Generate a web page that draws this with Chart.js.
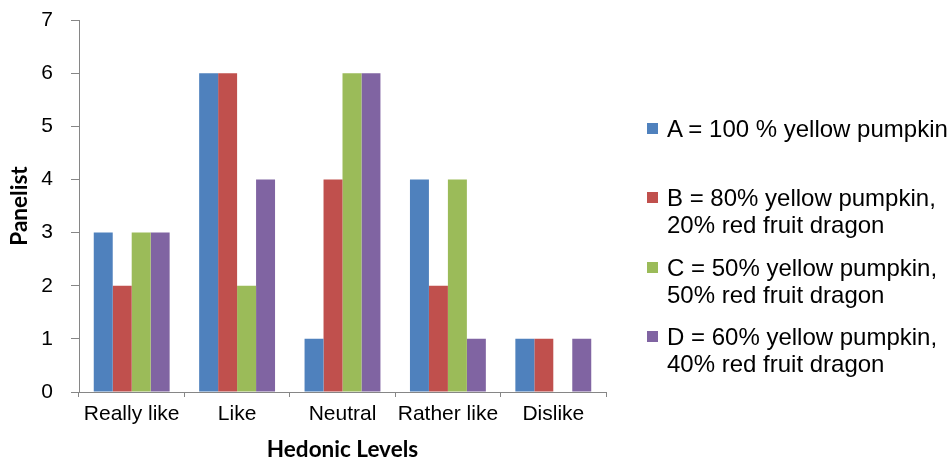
<!DOCTYPE html>
<html>
<head>
<meta charset="utf-8">
<script src="https://cdn.jsdelivr.net/npm/chart.js@4/dist/chart.umd.min.js"></script>
<style>
  html, body { margin: 0; padding: 0; background: #fff; }
  #wrap { position: relative; width: 949px; height: 463px; }
  #chart { position: absolute; left: 0; top: 0; }
  .lg { position: absolute; left: 647px; font-family: "Liberation Sans", Arial, sans-serif;
        font-size: 24px; line-height: 27px; color: #000; white-space: nowrap; }
  .lg .sw { position: absolute; left: 0; top: 8px; width: 11px; height: 11px; }
  .lg .tx { position: absolute; left: 20px; top: 0; }
</style>
</head>
<body>
<div id="wrap">
  <canvas id="chart" width="949" height="463"></canvas>
  <div id="legend"></div>
</div>
<script>
// Hedonic rating categories
const categories = ['Really like', 'Like', 'Neutral', 'Rather like', 'Dislike'];

// Number of panelists choosing each level, per formulation
const seriesA = [3, 6, 1, 4, 1];
const seriesB = [2, 6, 4, 2, 1];
const seriesC = [3, 2, 6, 4, 0];
const seriesD = [3, 4, 6, 1, 1];

const seriesLabels = [
  ['A = 100 % yellow pumpkin'],
  ['B = 80% yellow pumpkin,', '20% red fruit dragon'],
  ['C = 50% yellow pumpkin,', '50% red fruit dragon'],
  ['D = 60% yellow pumpkin,', '40% red fruit dragon']
];
const seriesColors = ['#4F81BD', '#C0504D', '#9BBB59', '#8064A2'];

const yTicks = [0, 1, 2, 3, 4, 5, 6, 7];

const axisColor = '#868686';
const tickFamily = '"Liberation Sans", Arial, sans-serif';
const titleFont = { family: 'Lato, "Open Sans", sans-serif', size: 22.5, weight: 'bold' };

const allSeries = [seriesA, seriesB, seriesC, seriesD];

new Chart(document.getElementById('chart'), {
  type: 'bar',
  data: {
    labels: categories,
    datasets: allSeries.map((vals, i) => ({
      label: seriesLabels[i].join(' '),
      data: vals,
      backgroundColor: seriesColors[i],
      borderWidth: 0,
      barPercentage: 1.0,
      categoryPercentage: 0.72
    }))
  },
  options: {
    responsive: false,
    animation: false,
    layout: { autoPadding: false, padding: { left: 0, right: 343, top: 20, bottom: 0 } },
    plugins: { legend: { display: false }, tooltip: { enabled: false } },
    scales: {
      x: {
        offset: true,
        grid: { display: true, drawOnChartArea: false, drawTicks: true, tickLength: 5,
                color: axisColor, offset: true },
        border: { display: true, color: axisColor, width: 1 },
        ticks: { color: '#000', font: { family: tickFamily, size: 21 }, padding: 5,
                 maxRotation: 0, autoSkip: false },
        title: { display: true, text: 'Hedonic Levels', color: '#000', font: titleFont,
                 padding: { top: 0, bottom: 0 } },
        afterFit: s => { s.height = 71; }
      },
      y: {
        min: 0, max: 7,
        afterBuildTicks: s => { s.ticks = yTicks.map(v => ({ value: v })); },
        grid: { display: true, drawOnChartArea: false, drawTicks: true, tickLength: 8,
                color: axisColor },
        border: { display: true, color: axisColor, width: 1 },
        ticks: { color: '#000', font: { family: tickFamily, size: 21 }, padding: 18 },
        title: { display: true, text: 'Panelist', color: '#000', font: titleFont,
                 padding: { top: 6, bottom: 0 } },
        afterFit: s => { s.width = 79; s.paddingTop = 0; s.paddingBottom = 0; }
      }
    }
  }
});

// Legend beside the plot
const legendTops = [115, 184, 254, 323];
const legendEl = document.getElementById('legend');
seriesLabels.forEach((lines, i) => {
  const item = document.createElement('div');
  item.className = 'lg';
  item.style.top = legendTops[i] + 'px';
  const sw = document.createElement('div');
  sw.className = 'sw';
  sw.style.background = seriesColors[i];
  const tx = document.createElement('div');
  tx.className = 'tx';
  tx.innerHTML = lines.join('<br>');
  item.appendChild(sw);
  item.appendChild(tx);
  legendEl.appendChild(item);
});
</script>
</body>
</html>
